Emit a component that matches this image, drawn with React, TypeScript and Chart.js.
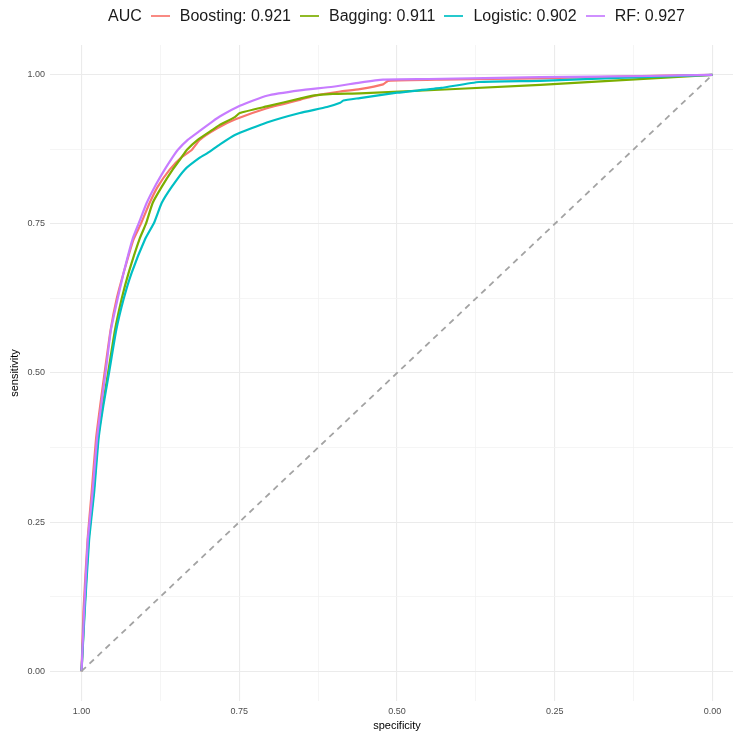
import React, { useEffect, useRef } from "react";
import { Chart, registerables } from "chart.js";

Chart.register(...registerables);

const seriesNames = ["Boosting", "Bagging", "Logistic", "RF"];
const aucValues = ["0.921", "0.911", "0.902", "0.927"];
const seriesColors = ["#F8766D", "#7CAE00", "#00BFC4", "#C77CFF"];

const boostingSpec = [1, 0.997, 0.9905, 0.984, 0.977, 0.9705, 0.9635, 0.954, 0.9444, 0.9333, 0.918, 0.906, 0.8921, 0.8794, 0.8603, 0.8413, 0.8254, 0.8127, 0.7857, 0.757, 0.7063, 0.654, 0.627, 0.59, 0.559, 0.522, 0.514, 0.43, 0.273, 0.15, 0];
const boostingSens = [0, 0.10, 0.22, 0.30, 0.39, 0.445, 0.50, 0.572, 0.624, 0.668, 0.723, 0.75, 0.785, 0.812, 0.841, 0.862, 0.874, 0.891, 0.910, 0.925, 0.944, 0.958, 0.966, 0.972, 0.976, 0.984, 0.990, 0.992, 0.994, 0.997, 1];

const baggingSpec = [1, 0.9955, 0.989, 0.981, 0.974, 0.9665, 0.958, 0.947, 0.9365, 0.9254, 0.908, 0.898, 0.8873, 0.873, 0.8556, 0.8413, 0.8333, 0.8159, 0.7921, 0.781, 0.7571, 0.7492, 0.7063, 0.654, 0.6333, 0.6016, 0.5587, 0.273, 0];
const baggingSens = [0, 0.10, 0.22, 0.30, 0.39, 0.445, 0.50, 0.572, 0.624, 0.668, 0.725, 0.75, 0.785, 0.812, 0.841, 0.862, 0.874, 0.891, 0.908, 0.916, 0.929, 0.936, 0.947, 0.960, 0.965, 0.968, 0.969, 0.983, 1];

const logisticSpec = [1, 0.995, 0.988, 0.980, 0.973, 0.9655, 0.9565, 0.945, 0.9333, 0.9206, 0.899, 0.885, 0.873, 0.8571, 0.8365, 0.8127, 0.8, 0.781, 0.757, 0.7063, 0.654, 0.611, 0.59, 0.585, 0.559, 0.5, 0.43, 0.37, 0.273, 0.15, 0];
const logisticSens = [0, 0.10, 0.22, 0.30, 0.39, 0.445, 0.50, 0.572, 0.624, 0.668, 0.725, 0.752, 0.785, 0.812, 0.841, 0.861, 0.869, 0.883, 0.899, 0.920, 0.936, 0.946, 0.953, 0.957, 0.961, 0.970, 0.978, 0.988, 0.990, 0.995, 1];

const rfSpec = [1, 0.996, 0.990, 0.9825, 0.9755, 0.969, 0.962, 0.9535, 0.9429, 0.9333, 0.919, 0.909, 0.8968, 0.8841, 0.8683, 0.8556, 0.8476, 0.8317, 0.8127, 0.7921, 0.781, 0.7492, 0.7063, 0.654, 0.6016, 0.559, 0.522, 0.45, 0.273, 0.1, 0];
const rfSens = [0, 0.10, 0.22, 0.30, 0.39, 0.445, 0.50, 0.572, 0.624, 0.668, 0.725, 0.752, 0.785, 0.812, 0.841, 0.862, 0.874, 0.891, 0.906, 0.922, 0.930, 0.948, 0.965, 0.974, 0.980, 0.987, 0.992, 0.993, 0.996, 0.998, 1];

const diagSpec = [1, 0];
const diagSens = [0, 1];

const tickValues = [0, 0.125, 0.25, 0.375, 0.5, 0.625, 0.75, 0.875, 1];

const specs = [boostingSpec, baggingSpec, logisticSpec, rfSpec];
const senss = [boostingSens, baggingSens, logisticSens, rfSens];

const FONT = "'Liberation Sans', Arial, sans-serif";

function isMajor(v: number) {
  return Math.abs(v * 4 - Math.round(v * 4)) < 1e-6;
}

export default function App() {
  const ref = useRef<HTMLCanvasElement | null>(null);

  useEffect(() => {
    if (!ref.current) return;
    const datasets: any[] = seriesNames.map((name, i) => ({
      label: name,
      data: specs[i].map((s, j) => ({ x: s, y: senss[i][j] })),
      borderColor: seriesColors[i],
      backgroundColor: seriesColors[i],
      borderWidth: 2.2,
      pointRadius: 0,
      tension: 0.15,
      fill: false,
      order: 4 - i,
    }));
    datasets.push({
      label: "diag",
      data: diagSpec.map((s, j) => ({ x: s, y: diagSens[j] })),
      borderColor: "#A3A3A3",
      borderWidth: 1.8,
      borderDash: [6, 5],
      pointRadius: 0,
      tension: 0,
      fill: false,
      order: 0,
    });

    const gridColor = (ctx: any) =>
      ctx.tick && isMajor(ctx.tick.value) ? "#EBEBEB" : "#F2F2F2";
    const gridWidth = (ctx: any) =>
      ctx.tick && isMajor(ctx.tick.value) ? 1.1 : 0.8;

    const chart = new Chart(ref.current, {
      type: "line",
      data: { datasets },
      options: {
        animation: false,
        responsive: false,
        maintainAspectRatio: false,
        layout: { padding: { top: 45, left: 0, right: 0, bottom: 0 } },
        plugins: { legend: { display: false }, tooltip: { enabled: false } },
        scales: {
          x: {
            type: "linear",
            reverse: true,
            min: -0.05,
            max: 1.05,
            afterBuildTicks: (s: any) => {
              s.ticks = tickValues.map((v) => ({ value: v }));
            },
            afterFit: (s: any) => {
              s.height = 32;
            },
            border: { display: false },
            grid: { color: gridColor, lineWidth: gridWidth, drawTicks: false },
            ticks: {
              autoSkip: false,
              maxRotation: 0,
              padding: 5,
              color: "#4D4D4D",
              font: { family: FONT, size: 9 },
              callback: (v: any) => (isMajor(Number(v)) ? Number(v).toFixed(2) : ""),
            },
            title: {
              display: true,
              text: "specificity",
              color: "#000000",
              font: { family: FONT, size: 11 },
              padding: { top: 0, bottom: 0 },
            },
          },
          y: {
            type: "linear",
            min: -0.05,
            max: 1.05,
            afterBuildTicks: (s: any) => {
              s.ticks = tickValues.map((v) => ({ value: v }));
            },
            afterFit: (s: any) => {
              s.width = 50;
            },
            border: { display: false },
            grid: { color: gridColor, lineWidth: gridWidth, drawTicks: false },
            ticks: {
              autoSkip: false,
              padding: 5,
              color: "#4D4D4D",
              font: { family: FONT, size: 9 },
              callback: (v: any) => (isMajor(Number(v)) ? Number(v).toFixed(2) : ""),
            },
            title: {
              display: true,
              text: "sensitivity",
              color: "#000000",
              font: { family: FONT, size: 11 },
              padding: { top: 8, bottom: 0 },
            },
          },
        },
      } as any,
    });
    return () => chart.destroy();
  }, []);

  return (
    <div
      style={{
        position: "fixed",
        left: 0,
        top: 0,
        width: 733,
        height: 733,
        overflow: "hidden",
        background: "#ffffff",
      }}
    >
      <canvas ref={ref} width={744} height={733} style={{ display: "block", width: 744, height: 733 }} />
      <div
        style={{
          position: "absolute",
          top: 7,
          left: 108,
          display: "flex",
          alignItems: "center",
          fontFamily: FONT,
          fontSize: 16,
          lineHeight: "18px",
          color: "#1A1A1A",
          whiteSpace: "nowrap",
        }}
      >
        <span>AUC</span>
        {seriesNames.map((n, i) => (
          <React.Fragment key={n}>
            <span
              style={{
                display: "inline-block",
                width: 19,
                height: 2.5,
                background: seriesColors[i],
                opacity: 0.85,
                marginLeft: 9,
                marginRight: 10,
              }}
            />
            <span>{`${n}: ${aucValues[i]}`}</span>
          </React.Fragment>
        ))}
      </div>
    </div>
  );
}
